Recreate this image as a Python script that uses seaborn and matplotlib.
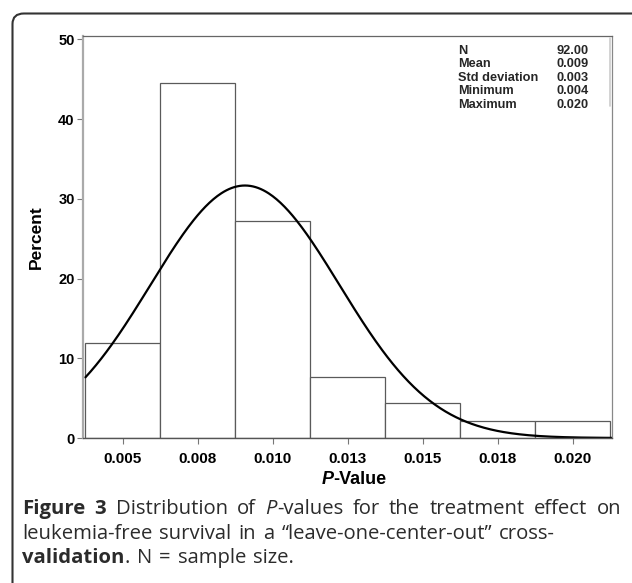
import numpy as np
import pandas as pd
import matplotlib
matplotlib.use("Agg")
import matplotlib.pyplot as plt
import seaborn as sns
from matplotlib.patches import FancyBboxPatch

# ---- data ----
bin_centers = [0.005, 0.0075, 0.010, 0.0125, 0.015, 0.0175, 0.020]
bin_counts = [11, 41, 25, 7, 4, 2, 2]          # N = 92
bin_width = 0.0025
fit_mean = 0.00907
fit_sd = 0.00315
x_tick_values = [0.005, 0.0075, 0.010, 0.0125, 0.015, 0.0175, 0.020]
x_tick_labels = ["0.005", "0.008", "0.010", "0.013", "0.015", "0.018", "0.020"]
y_tick_values = [0, 10, 20, 30, 40, 50]
stat_names = ["N", "Mean", "Std deviation", "Minimum", "Maximum"]
stat_values = ["92.00", "0.009", "0.003", "0.004", "0.020"]

sns.set_theme(style="white")
plt.rcParams["font.family"] = ["Liberation Sans", "DejaVu Sans"]

fig = plt.figure(figsize=(6.32, 5.83), dpi=100)
ax = fig.add_axes([83 / 632, 1 - 438 / 583, (611.7 - 83) / 632, (438 - 35.7) / 583])

edges = [c - bin_width / 2 for c in bin_centers] + [bin_centers[-1] + bin_width / 2]
df = pd.DataFrame({"pval": bin_centers, "n": bin_counts})
sns.histplot(data=df, x="pval", weights="n", bins=edges, stat="percent",
             color="white", edgecolor="#5a5a5a", linewidth=0.9, alpha=1, ax=ax)

xlo, xhi = 0.00367, 0.02130
xs = np.linspace(edges[0], xhi, 400)
ys = 100 * bin_width / (fit_sd * np.sqrt(2 * np.pi)) * np.exp(-0.5 * ((xs - fit_mean) / fit_sd) ** 2)
sns.lineplot(x=xs, y=ys, color="black", linewidth=1.6, ax=ax)

ax.set_xlim(xlo, xhi)
ax.set_ylim(0, 50.45)
ax.set_xticks(x_tick_values)
ax.set_xticklabels(x_tick_labels)
ax.set_yticks(y_tick_values)
for lab in ax.get_xticklabels():
    lab.set_fontweight("bold")
    lab.set_fontsize(11)
    lab.set_color("black")
for lab in ax.get_yticklabels():
    lab.set_fontweight("bold")
    lab.set_fontsize(10.5)
    lab.set_color("black")
ax.tick_params(axis="both", direction="out", length=4, width=0.8, color="#777777",
               pad=2, bottom=True, left=True)
ax.tick_params(axis="x", pad=6)
for side in ["left", "right", "top", "bottom"]:
    ax.spines[side].set_visible(True)
ax.spines["left"].set_color("#aaaaaa")
ax.spines["left"].set_linewidth(1.6)
ax.spines["top"].set_color("#666666")
ax.spines["top"].set_linewidth(0.9)
ax.spines["bottom"].set_color("#555555")
ax.spines["bottom"].set_linewidth(1.0)
ax.spines["right"].set_color("#888888")
ax.spines["right"].set_linewidth(0.9)

ax.set_ylabel("Percent", fontsize=12.5, fontweight="bold", color="black", labelpad=10)
ax.set_xlabel("")
xc = 0.5 * (83 + 611.7) / 632
fig.text(xc - 0.022, 1 - 479 / 583, "P", fontsize=13, fontweight="bold",
         fontstyle="italic", ha="right", va="center", color="black")
fig.text(xc - 0.022, 1 - 479 / 583, "-Value", fontsize=13, fontweight="bold",
         ha="left", va="center", color="black")

# stats box
row_y0 = 50.5
for i, (nm, vl) in enumerate(zip(stat_names, stat_values)):
    yy = 1 - (row_y0 + i * 13.6) / 583
    fig.text(458 / 632, yy, nm, fontsize=9.2, fontweight="bold", ha="left", va="center")
    fig.text(589 / 632, yy, vl, fontsize=9.2, fontweight="bold", ha="right", va="center")
fig.add_artist(plt.Line2D([609.5 / 632, 609.5 / 632], [1 - 38 / 583, 1 - 106 / 583],
                          color="#cccccc", linewidth=1.2))

# outer rounded frame
frame = FancyBboxPatch((12.5 / 632, -0.1), 1.2, 1 - 13.5 / 583 + 0.1,
                       boxstyle="round,pad=0,rounding_size=0.018",
                       transform=fig.transFigure, fill=False,
                       edgecolor="#333333", linewidth=1.5, clip_on=False)
fig.add_artist(frame)

# caption
cap_color = "#2b2b2b"
cap_font = ["Open Sans", "DejaVu Sans"]
cap_size = 14.6
renderer = fig.canvas.get_renderer()
measure = []

def make(txt, wt, st):
    return fig.text(0, 0, txt, fontsize=cap_size, fontweight=wt, fontstyle=st,
                    family=cap_font, color=cap_color, ha="left", va="baseline")

def width_px(t):
    return t.get_window_extent(renderer).width

def caption_line(words, x_px, base_px, right_px=None):
    arts = [[make(*seg) for seg in w] for w in words]
    wwidths = [sum(width_px(a) for a in w) for w in arts]
    m1, m2 = make("n n", "normal", "normal"), make("nn", "normal", "normal")
    measure.extend([m1, m2])
    sp = width_px(m1) - width_px(m2) + 1.8
    if right_px is not None and len(words) > 1:
        sp = (right_px - x_px - sum(wwidths)) / (len(words) - 1)
    x = x_px
    for w, ww in zip(arts, wwidths):
        xx = x
        for a in w:
            a.set_position((xx / 632, 1 - base_px / 583))
            xx += width_px(a)
        x += ww + sp

R, B, I = "normal", "bold", "italic"
line1 = [[("Figure", B, R)], [("3", B, R)], [("Distribution", R, R)], [("of", R, R)],
         [("P", R, I), ("-values", R, R)], [("for", R, R)], [("the", R, R)],
         [("treatment", R, R)], [("effect", R, R)], [("on", R, R)]]
line2 = [[(w, R, R)] for w in
         "leukemia-free survival in a \u201cleave-one-center-out\u201d cross-".split(" ")]
line3 = [[("validation", B, R), (".", R, R)], [("N", R, R)], [("=", R, R)],
         [("sample", R, R)], [("size.", R, R)]]
caption_line(line1, 22, 514, right_px=621)
caption_line(line2, 22, 539)
caption_line(line3, 22, 563)
for t in measure:
    t.remove()

fig.savefig("out.png", dpi=100)
